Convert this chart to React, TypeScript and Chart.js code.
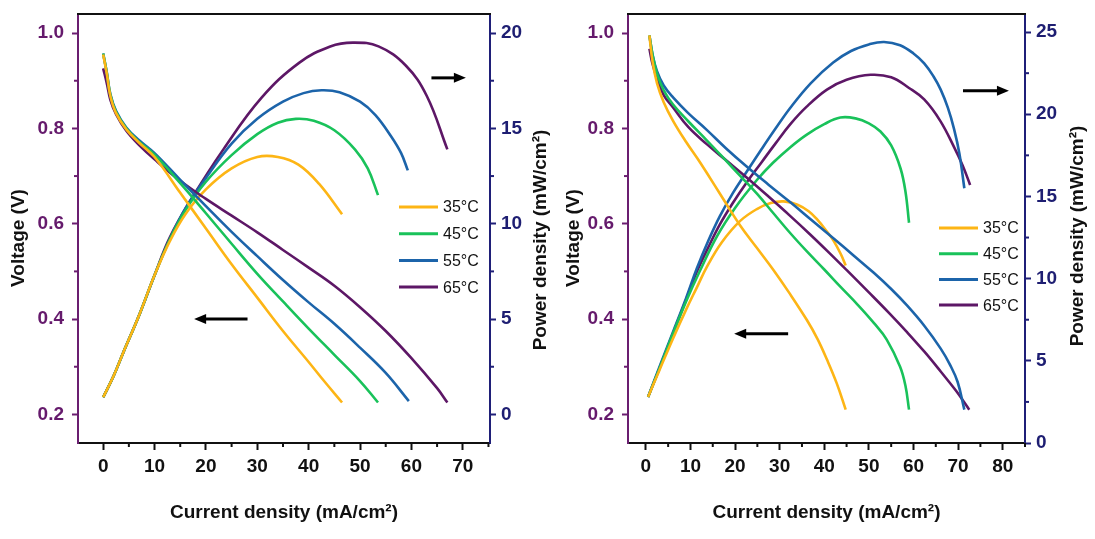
import { useEffect, useRef } from "react";
import { Chart, registerables } from "chart.js";

Chart.register(...registerables);

const FONT = "'Liberation Sans', Arial, sans-serif";

const LABELS = ["35°C", "45°C", "55°C", "65°C"];
const COLORS = ["#FDB515", "#19C25A", "#1C64AA", "#5D1766"];
const PURPLE_AXIS = "#6A1E70";
const NAVY_AXIS = "#1F1F78";

// ---- left panel: voltage (V) vs current density (mA/cm²)
const A_V35_X = [0, 0.7, 1.4, 2.5, 4.5, 7, 10, 15, 20, 25, 30, 35, 40, 43, 46.5];
const A_V35 = [0.955, 0.915, 0.868, 0.832, 0.798, 0.77, 0.74, 0.665, 0.59, 0.515, 0.445, 0.375, 0.31, 0.27, 0.225];
const A_V45_X = [0, 0.7, 1.4, 2.5, 4.5, 7, 10, 15, 20, 25, 30, 35, 40, 45, 50, 53.5];
const A_V45 = [0.957, 0.917, 0.87, 0.835, 0.8, 0.772, 0.745, 0.685, 0.622, 0.558, 0.495, 0.437, 0.38, 0.325, 0.27, 0.225];
const A_V55_X = [0, 0.7, 1.4, 2.5, 4.5, 7, 10, 15, 20, 25, 30, 35, 40, 45, 50, 55, 59.5];
const A_V55 = [0.957, 0.918, 0.872, 0.837, 0.802, 0.775, 0.748, 0.692, 0.637, 0.583, 0.532, 0.482, 0.435, 0.39, 0.34, 0.287, 0.228];
const A_V65_X = [0, 0.7, 1.4, 2.5, 4.5, 7, 10, 15, 20, 25, 30, 35, 40, 45, 50, 55, 60, 65, 67];
const A_V65 = [0.926, 0.895, 0.86, 0.83, 0.795, 0.765, 0.735, 0.69, 0.652, 0.617, 0.582, 0.545, 0.508, 0.47, 0.425, 0.375, 0.318, 0.255, 0.225];

// ---- left panel: power density (mW/cm²)
const A_P35_X = [0, 2, 4, 7, 10, 13, 16, 20, 25, 30, 34, 38, 42, 46.5];
const A_P35 = [0.9, 2.0, 3.3, 5.2, 7.3, 9.1, 10.5, 11.8, 12.9, 13.5, 13.5, 13.1, 12.1, 10.5];
const A_P45_X = [0, 2, 4, 7, 10, 13, 16, 20, 25, 30, 34, 37.5, 41, 45, 49, 51.5, 53.5];
const A_P45 = [0.9, 2.0, 3.3, 5.2, 7.3, 9.2, 10.7, 12.2, 13.6, 14.7, 15.3, 15.5, 15.4, 14.9, 13.9, 12.9, 11.5];
const A_P55_X = [0, 2, 4, 7, 10, 13, 16, 20, 25, 30, 35, 39, 42.5, 46, 50, 53, 56, 58, 59.3];
const A_P55 = [0.9, 2.0, 3.3, 5.2, 7.3, 9.2, 10.8, 12.4, 14.2, 15.5, 16.4, 16.85, 17.0, 16.9, 16.4, 15.7, 14.6, 13.7, 12.8];
const A_P65_X = [0, 2, 4, 7, 10, 13, 17.4, 23.4, 30.8, 38.2, 44.2, 48.6, 53.6, 58.9, 63, 67];
const A_P65 = [0.9, 2.0, 3.3, 5.2, 7.3, 9.3, 11.4, 13.9, 16.6, 18.45, 19.3, 19.5, 19.3, 18.3, 16.7, 13.9];

// ---- right panel: voltage
const B_V35_X = [0.8, 1.5, 2.5, 4, 6.1, 9, 11.5, 13.65, 17, 21.1, 25, 28.6, 32, 36.1, 38.5, 40.6, 42.8, 44.8];
const B_V35 = [0.995, 0.94, 0.895, 0.855, 0.816, 0.772, 0.738, 0.707, 0.657, 0.597, 0.548, 0.503, 0.457, 0.398, 0.358, 0.315, 0.265, 0.21];
const B_V45_X = [0.8, 1.5, 2.5, 4, 6.1, 9.5, 13.65, 17.5, 21.1, 25, 28.6, 32.4, 36, 40, 43.6, 47.5, 51.1, 54, 57, 58.2, 59];
const B_V45 = [0.995, 0.955, 0.915, 0.88, 0.85, 0.815, 0.775, 0.737, 0.701, 0.662, 0.622, 0.58, 0.543, 0.504, 0.468, 0.43, 0.392, 0.357, 0.3, 0.26, 0.21];
const B_V55_X = [0.8, 1.5, 2.5, 4, 6.1, 9.5, 13.65, 18, 22.6, 27.5, 32.4, 37, 42.1, 46.5, 51.1, 55, 58.6, 62.5, 66.1, 68.2, 69.9, 71.4];
const B_V55 = [0.995, 0.955, 0.92, 0.89, 0.865, 0.832, 0.797, 0.758, 0.72, 0.682, 0.645, 0.609, 0.569, 0.534, 0.497, 0.463, 0.428, 0.385, 0.338, 0.304, 0.268, 0.21];
const B_V65_X = [0.8, 1.5, 2.5, 4, 6.1, 9.5, 13.65, 18, 22.6, 27.5, 32.4, 36.9, 41, 45.1, 50, 54.5, 58.6, 62.5, 66.1, 69.5, 72.5];
const B_V65 = [0.967, 0.935, 0.905, 0.87, 0.844, 0.803, 0.767, 0.733, 0.697, 0.657, 0.616, 0.577, 0.54, 0.502, 0.456, 0.413, 0.372, 0.331, 0.29, 0.25, 0.21];

// ---- right panel: power density
const B_P35_X = [0.5, 3, 6, 9, 11.5, 13.65, 17, 21.1, 25, 28, 30.9, 34, 36.5, 38.4, 40.5, 42.1, 43.7, 44.8];
const B_P35 = [2.8, 4.4, 6.3, 8.1, 9.5, 10.7, 12.2, 13.5, 14.25, 14.6, 14.7, 14.5, 14.1, 13.6, 12.9, 12.3, 11.5, 10.8];
const B_P45_X = [0.5, 3, 6, 9, 12, 16, 20, 24.9, 28.5, 32.4, 36, 40, 43.6, 47, 50, 52.6, 55, 57.1, 58.2, 59];
const B_P45 = [2.8, 4.5, 6.6, 8.6, 10.4, 12.6, 14.3, 16.0, 17.05, 18.0, 18.75, 19.4, 19.8, 19.75, 19.45, 18.95, 18.1, 16.7, 15.3, 13.4];
const B_P55_X = [0.5, 3, 6, 9, 11.4, 14, 16.6, 19.5, 22.6, 26, 29, 32.4, 37, 42, 46, 50, 53.4, 57, 60, 62.4, 64.5, 66.1, 67.7, 69.1, 70.3, 71.4];
const B_P55 = [2.8, 4.6, 6.7, 8.8, 10.6, 12.3, 13.8, 15.2, 16.5, 17.9, 19.1, 20.4, 21.9, 23.15, 23.85, 24.25, 24.4, 24.2, 23.7, 23.1, 22.3, 21.5, 20.4, 19.1, 17.6, 15.5];
const B_P65_X = [0.5, 3, 6, 9, 11.4, 14, 16.6, 19.5, 22.6, 26, 29, 32.4, 36, 40.6, 45, 50.4, 55, 59, 62.4, 66, 69.1, 71, 72.7];
const B_P65 = [2.8, 4.5, 6.6, 8.7, 10.4, 11.9, 13.3, 14.6, 15.85, 17.1, 18.2, 19.4, 20.45, 21.5, 22.1, 22.4, 22.25, 21.6, 20.9, 19.6, 18.0, 16.9, 15.7];

// ---- tick labels
const A_X_TICKS = [0, 10, 20, 30, 40, 50, 60, 70];
const B_X_TICKS = [0, 10, 20, 30, 40, 50, 60, 70, 80];
const V_TICKS = [0.2, 0.4, 0.6, 0.8, 1.0];
const A_P_TICKS = [0, 5, 10, 15, 20];
const B_P_TICKS = [0, 5, 10, 15, 20, 25];

const pts = (xs: number[], ys: number[]) => xs.map((x, i) => ({ x, y: ys[i] }));

// minor ticks, axis titles, legend, arrows, top frame
const decor = {
  id: "decor",
  afterDraw(chart: any, _args: any, o: any) {
    const { ctx, chartArea: a, scales } = chart;
    ctx.save();

    ctx.strokeStyle = "#111";
    ctx.lineWidth = 2;
    ctx.beginPath();
    ctx.moveTo(a.left - 1, a.top);
    ctx.lineTo(a.right + 1, a.top);
    ctx.stroke();

    const minor = (scale: any, color: string, side: string) => {
      const major = scale.ticks.map((t: any) => t.value);
      const step = major[1] - major[0];
      ctx.strokeStyle = color;
      ctx.lineWidth = 2;
      for (let v = major[0] - step / 2; v <= scale.max + 1e-9; v += step) {
        if (v < scale.min) continue;
        const p = scale.getPixelForValue(v);
        ctx.beginPath();
        if (side === "bottom") { ctx.moveTo(p, a.bottom); ctx.lineTo(p, a.bottom + 4); }
        if (side === "left") { ctx.moveTo(a.left, p); ctx.lineTo(a.left - 4, p); }
        if (side === "right") { ctx.moveTo(a.right, p); ctx.lineTo(a.right + 4, p); }
        ctx.stroke();
      }
    };
    minor(scales.x, "#111", "bottom");
    minor(scales.y, PURPLE_AXIS, "left");
    minor(scales.y1, NAVY_AXIS, "right");

    // rotated y titles
    ctx.fillStyle = "#111";
    ctx.font = `bold 19px ${FONT}`;
    ctx.textAlign = "center";
    ctx.textBaseline = "middle";
    for (const t of o.titles) {
      ctx.save();
      ctx.translate(t.x, t.y);
      ctx.rotate(-Math.PI / 2);
      ctx.fillText(t.text, 0, 0);
      ctx.restore();
    }

    // legend (voltage datasets carry the labels)
    ctx.font = `16px ${FONT}`;
    ctx.textAlign = "left";
    chart.data.datasets.forEach((ds: any, i: number) => {
      if (!ds.label) return;
      const y = o.legend.y + i * o.legend.dy;
      ctx.strokeStyle = ds.borderColor;
      ctx.lineWidth = 3;
      ctx.beginPath();
      ctx.moveTo(o.legend.x, y);
      ctx.lineTo(o.legend.x + 39, y);
      ctx.stroke();
      ctx.fillStyle = "#111";
      ctx.fillText(ds.label, o.legend.x + 44, y + 1);
    });

    // arrows, in data coordinates
    ctx.strokeStyle = "#000";
    ctx.fillStyle = "#000";
    for (const ar of o.arrows) {
      const x0 = scales.x.getPixelForValue(ar.from);
      const x1 = scales.x.getPixelForValue(ar.to);
      const y = scales.y.getPixelForValue(ar.v);
      const dir = Math.sign(x1 - x0);
      ctx.lineWidth = 3;
      ctx.beginPath();
      ctx.moveTo(x0, y);
      ctx.lineTo(x1 - dir * 8, y);
      ctx.stroke();
      ctx.beginPath();
      ctx.moveTo(x1, y);
      ctx.lineTo(x1 - dir * 12, y - 5);
      ctx.lineTo(x1 - dir * 12, y + 5);
      ctx.closePath();
      ctx.fill();
    }
    ctx.restore();
  },
};

interface PanelProps {
  v: { x: number; y: number }[][];
  p: { x: number; y: number }[][];
  xMin: number;
  xMax: number;
  xTicks: number[];
  pMin: number;
  pMax: number;
  pTicks: number[];
  leftW: number;
  rightW: number;
  decorOpts: any;
}

// fixed axis boxes so the plot area sits where the original has it
const noPad = (s: any) => {
  s.paddingTop = 0;
  s.paddingBottom = 0;
  s.paddingLeft = 0;
  s.paddingRight = 0;
};

function Panel(props: PanelProps) {
  const ref = useRef<HTMLCanvasElement>(null);

  useEffect(() => {
    if (!ref.current) return;
    const tickFont = { family: FONT, size: 19, weight: "bold" as const };

    const line = (label: string, data: any, axis: string, color: string) => ({
      label, data, yAxisID: axis, borderColor: color, borderWidth: 2.6, pointRadius: 0, tension: 0.4,
    });
    const datasets: any[] = [
      ...props.v.map((d, i) => line(LABELS[i], d, "y", COLORS[i])),
      ...props.p.map((d, i) => line("", d, "y1", COLORS[i])),
    ];

    const chart = new Chart(ref.current, {
      type: "line",
      data: { datasets },
      plugins: [decor],
      options: {
        animation: false,
        responsive: true,
        maintainAspectRatio: false,
        layout: { padding: { top: 14, left: 0, right: 0, bottom: 0 } },
        plugins: {
          legend: { display: false },
          tooltip: { enabled: false },
          decor: props.decorOpts,
        } as any,
        scales: {
          x: {
            type: "linear",
            min: props.xMin,
            max: props.xMax,
            afterBuildTicks: (s: any) => { s.ticks = props.xTicks.map((value) => ({ value })); },
            afterFit: (s: any) => { s.height = 96; noPad(s); },
            border: { color: "#111", width: 2 },
            grid: { drawOnChartArea: false, tickLength: 7, tickColor: "#111", tickWidth: 2 },
            ticks: { font: tickFont, color: "#111", padding: 5, maxRotation: 0, callback: (v: any) => String(v) },
            title: {
              display: true,
              text: "Current density (mA/cm²)",
              color: "#111",
              font: { family: FONT, size: 19, weight: "bold" },
              padding: { top: 0, bottom: 15 },
            },
          },
          y: {
            type: "linear",
            position: "left",
            min: 0.14,
            max: 1.04,
            afterBuildTicks: (s: any) => { s.ticks = V_TICKS.map((value) => ({ value })); },
            afterFit: (s: any) => { s.width = props.leftW; noPad(s); },
            border: { color: PURPLE_AXIS, width: 2 },
            grid: { drawOnChartArea: false, tickLength: 6, tickColor: PURPLE_AXIS, tickWidth: 2 },
            ticks: { font: tickFont, color: "#651A6C", padding: 8, callback: (v: any) => Number(v).toFixed(1) },
          },
          y1: {
            type: "linear",
            position: "right",
            min: props.pMin,
            max: props.pMax,
            afterBuildTicks: (s: any) => { s.ticks = props.pTicks.map((value) => ({ value })); },
            afterFit: (s: any) => { s.width = props.rightW; noPad(s); },
            border: { color: NAVY_AXIS, width: 2 },
            grid: { drawOnChartArea: false, tickLength: 6, tickColor: NAVY_AXIS, tickWidth: 2 },
            ticks: { font: tickFont, color: "#1E1E72", padding: 5, callback: (v: any) => String(v) },
          },
        },
      },
    });
    return () => chart.destroy();
  }, [props]);

  return <canvas ref={ref} />;
}

const PANEL_A: PanelProps = {
  v: [pts(A_V35_X, A_V35), pts(A_V45_X, A_V45), pts(A_V55_X, A_V55), pts(A_V65_X, A_V65)],
  p: [pts(A_P35_X, A_P35), pts(A_P45_X, A_P45), pts(A_P55_X, A_P55), pts(A_P65_X, A_P65)],
  xMin: -4.9,
  xMax: 75.3,
  xTicks: A_X_TICKS,
  pMin: -1.5,
  pMax: 21,
  pTicks: A_P_TICKS,
  leftW: 78,
  rightW: 70,
  decorOpts: {
    titles: [
      { text: "Voltage (V)", x: 19, y: 238 },
      { text: "Power density (mW/cm²)", x: 541, y: 240 },
    ],
    legend: { x: 399, y: 207, dy: 26.7 },
    arrows: [
      { from: 28.1, to: 17.7, v: 0.4 },
      { from: 63.9, to: 70.6, v: 0.906 },
    ],
  },
};

const PANEL_B: PanelProps = {
  v: [pts(B_V35_X, B_V35), pts(B_V45_X, B_V45), pts(B_V55_X, B_V55), pts(B_V65_X, B_V65)],
  p: [pts(B_P35_X, B_P35), pts(B_P45_X, B_P45), pts(B_P55_X, B_P55), pts(B_P65_X, B_P65)],
  xMin: -4,
  xMax: 85,
  xTicks: B_X_TICKS,
  pMin: 0,
  pMax: 26.1,
  pTicks: B_P_TICKS,
  leftW: 68,
  rightW: 70,
  decorOpts: {
    titles: [
      { text: "Voltage (V)", x: 14, y: 238 },
      { text: "Power density (mW/cm²)", x: 518, y: 236 },
    ],
    legend: { x: 379, y: 228, dy: 25.7 },
    arrows: [
      { from: 31.9, to: 19.8, v: 0.369 },
      { from: 71.1, to: 81.4, v: 0.879 },
    ],
  },
};

export default function App() {
  return (
    <div style={{ position: "absolute", left: 0, top: 0, width: 1095, height: 539, background: "#fff" }}>
      <div style={{ position: "absolute", left: 0, top: 0, width: 560, height: 539 }}>
        <Panel {...PANEL_A} />
      </div>
      <div style={{ position: "absolute", left: 560, top: 0, width: 535, height: 539 }}>
        <Panel {...PANEL_B} />
      </div>
    </div>
  );
}
